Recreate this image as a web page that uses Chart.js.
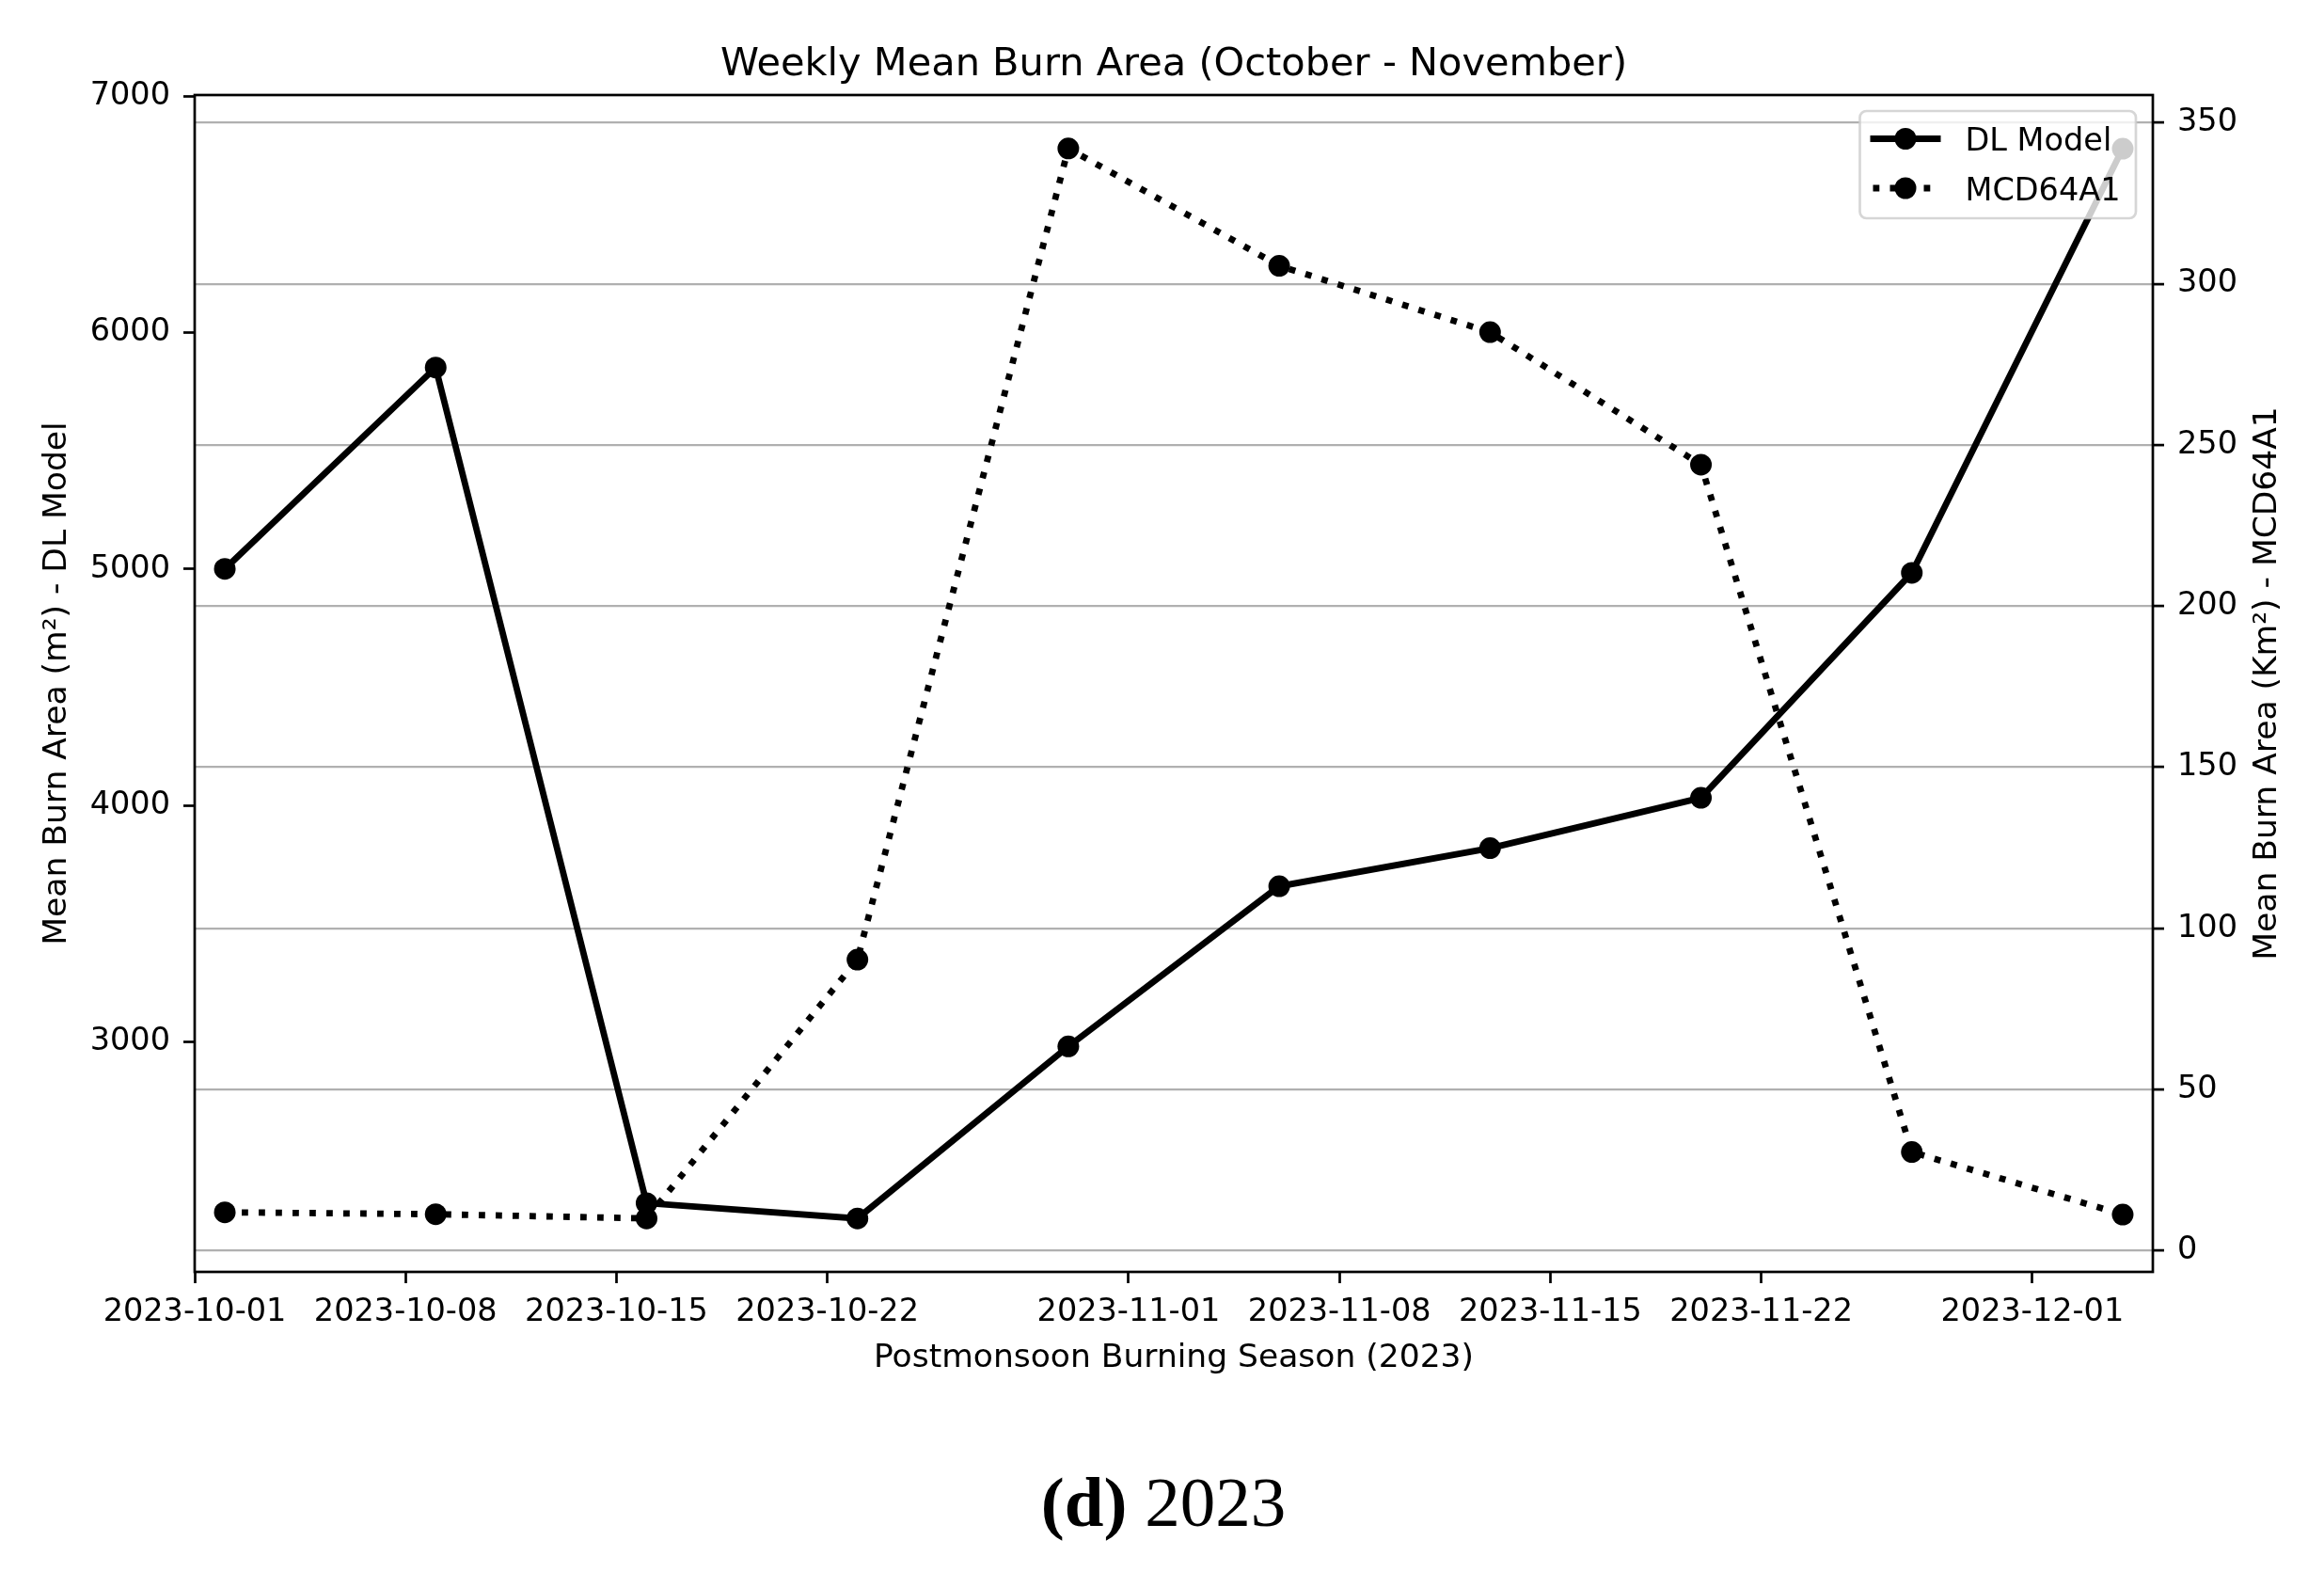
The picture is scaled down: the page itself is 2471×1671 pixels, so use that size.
<!DOCTYPE html>
<html>
<head>
<meta charset="utf-8">
<script src="https://cdn.jsdelivr.net/npm/chart.js@4.4.1/dist/chart.umd.min.js"></script>
<style>
  html, body { margin: 0; padding: 0; background: #fff; }
  canvas { display: block; }
</style>
</head>
<body>
<canvas id="burn-chart" width="2471" height="1671"></canvas>
<script>
    // weekly points
    const weeks = ['2023-10-02', '2023-10-09', '2023-10-16', '2023-10-23', '2023-10-30',
                   '2023-11-06', '2023-11-13', '2023-11-20', '2023-11-27', '2023-12-04'];
    const dlModel = [5001, 5853, 2317, 2252, 2980, 3658, 3819, 4032, 4984, 6779];
    const mcd64a1 = [11.9, 11.3, 10.0, 90.3, 342.0, 305.6, 285.0, 243.9, 30.6, 11.2];

    const xTickLabels = ['2023-10-01', '2023-10-08', '2023-10-15', '2023-10-22', '2023-11-01',
                         '2023-11-08', '2023-11-15', '2023-11-22', '2023-12-01'];
    const leftTicks = [3000, 4000, 5000, 6000, 7000];
    const rightTicks = [0, 50, 100, 150, 200, 250, 300, 350];

    const xStart = '2023-10-01';
    const xEnd = '2023-12-05';

    const FONT = 'DejaVu Sans';
    const day = s => (Date.parse(s) - Date.parse(xStart)) / 864e5;
    const xTickDays = xTickLabels.map(day);

    Chart.defaults.color = '#000';
    Chart.defaults.font.family = FONT;

    function drawLegendRow(ctx, x, y, label, dash) {
        ctx.save();
        ctx.strokeStyle = '#000';
        ctx.lineWidth = 6.8;
        ctx.lineCap = 'butt';
        ctx.beginPath();
        if (dash) {
            ctx.setLineDash([6.8, 11.2]);
            ctx.moveTo(x + 3, y);
        } else {
            ctx.moveTo(x, y);
        }
        ctx.lineTo(x + 75, y);
        ctx.stroke();
        ctx.setLineDash([]);
        ctx.fillStyle = '#000';
        ctx.beginPath();
        ctx.arc(x + 37.5, y, 11.5, 0, Math.PI * 2);
        ctx.fill();
        ctx.font = '33.5px "' + FONT + '"';
        ctx.textBaseline = 'alphabetic';
        ctx.textAlign = 'left';
        ctx.fillText(label, x + 101, y + 12.5);
        ctx.restore();
    }

    const decor = {
        id: 'decor',
        afterDatasetsDraw(chart) {
            const { ctx, chartArea: a } = chart;
            ctx.save();
            // frame like matplotlib spines
            ctx.strokeStyle = '#000';
            ctx.lineWidth = 2.7;
            ctx.strokeRect(a.left, a.top, a.right - a.left, a.bottom - a.top);

            // legend in the upper right corner, over the data
            const bw = 293.5, bh = 114;
            const bx = a.right - 18 - bw, by = a.top + 17;
            ctx.beginPath();
            ctx.roundRect(bx, by, bw, bh, 7);
            ctx.fillStyle = 'rgba(255,255,255,0.8)';
            ctx.fill();
            ctx.strokeStyle = 'rgba(204,204,204,0.8)';
            ctx.lineWidth = 2.7;
            ctx.stroke();
            ctx.restore();

            drawLegendRow(ctx, bx + 11, by + 29.5, 'DL Model', false);
            drawLegendRow(ctx, bx + 11, by + 82, 'MCD64A1', true);
        },
        afterDraw(chart) {
            const { ctx, chartArea: a } = chart;
            const cx = (a.left + a.right) / 2;
            const cy = (a.top + a.bottom) / 2;
            ctx.save();
            ctx.fillStyle = '#000';
            ctx.textAlign = 'center';
            ctx.textBaseline = 'alphabetic';

            ctx.font = '41.5px "' + FONT + '"';
            ctx.fillText('Weekly Mean Burn Area (October - November)', cx, 80);

            ctx.font = '34.5px "' + FONT + '"';
            ctx.fillText('Postmonsoon Burning Season (2023)', cx, 1453);

            ctx.textBaseline = 'middle';
            ctx.save();
            ctx.translate(61, cy);
            ctx.rotate(-Math.PI / 2);
            ctx.fillText('Mean Burn Area (m\u00b2) - DL Model', 0, 0);
            ctx.restore();

            ctx.save();
            ctx.translate(2411, cy);
            ctx.rotate(-Math.PI / 2);
            ctx.fillText('Mean Burn Area (Km\u00b2) - MCD64A1', 0, 0);
            ctx.restore();

            // caption under the figure
            ctx.textBaseline = 'alphabetic';
            ctx.textAlign = 'left';
            const bold = 'bold 75px "Liberation Serif"';
            const reg = '75px "Liberation Serif"';
            ctx.font = bold;
            const w1 = ctx.measureText('(d)').width;
            ctx.font = reg;
            const w2 = ctx.measureText(' 2023').width;
            const x0 = 1237 - (w1 + w2) / 2;
            ctx.font = bold;
            ctx.fillText('(d)', x0, 1622);
            ctx.font = reg;
            ctx.fillText(' 2023', x0 + w1, 1622);
            ctx.restore();
        }
    };

    const tickFont = { family: FONT, size: 33.5 };

    new Chart(document.querySelector('#burn-chart').getContext('2d'), {
        type: 'line',
        data: {
            datasets: [{
                label: 'DL Model',
                data: weeks.map((d, i) => ({ x: day(d), y: dlModel[i] })),
                yAxisID: 'y',
                order: 1,
                borderColor: '#000',
                backgroundColor: '#000',
                borderWidth: 6.8,
                pointRadius: 11.5,
                pointBorderWidth: 0,
                pointBackgroundColor: '#000',
                tension: 0,
                fill: false
            }, {
                label: 'MCD64A1',
                data: weeks.map((d, i) => ({ x: day(d), y: mcd64a1[i] })),
                yAxisID: 'y1',
                order: 0,
                borderColor: '#000',
                backgroundColor: '#000',
                borderWidth: 6.8,
                borderDash: [6.8, 11.2],
                borderCapStyle: 'butt',
                pointRadius: 11.5,
                pointBorderWidth: 0,
                pointBackgroundColor: '#000',
                tension: 0,
                fill: false
            }]
        },
        options: {
            responsive: false,
            animation: false,
            events: [],
            layout: { padding: { top: 101, left: 0, right: 0, bottom: 0 } },
            plugins: {
                legend: { display: false },
                tooltip: { enabled: false }
            },
            scales: {
                x: {
                    type: 'linear',
                    min: 0,
                    max: day(xEnd),
                    afterBuildTicks: scale => { scale.ticks = xTickDays.map(v => ({ value: v })); },
                    afterFit: scale => { scale.height = 1671 - 1352; },
                    border: { display: false },
                    grid: { drawOnChartArea: false, tickColor: '#000', tickWidth: 2.7, tickLength: 12 },
                    ticks: {
                        autoSkip: false, maxRotation: 0, minRotation: 0, padding: 11,
                        font: tickFont,
                        callback: v => xTickLabels[xTickDays.indexOf(v)] ?? ''
                    }
                },
                y: {
                    position: 'left',
                    min: 2026,
                    max: 7006,
                    afterBuildTicks: scale => { scale.ticks = leftTicks.map(v => ({ value: v })); },
                    afterFit: scale => { scale.width = 207; },
                    border: { display: false },
                    grid: { drawOnChartArea: false, tickColor: '#000', tickWidth: 2.7, tickLength: 12 },
                    ticks: { padding: 14, font: tickFont, callback: v => String(v) }
                },
                y1: {
                    position: 'right',
                    min: -6.6,
                    max: 358.6,
                    afterBuildTicks: scale => { scale.ticks = rightTicks.map(v => ({ value: v })); },
                    afterFit: scale => { scale.width = 2471 - 2289; },
                    border: { display: false },
                    grid: { color: '#b0b0b0', lineWidth: 2.2, tickColor: '#000', tickWidth: 2.7, tickLength: 12 },
                    ticks: { padding: 14, font: tickFont, callback: v => String(v) }
                }
            }
        },
        plugins: [decor]
    });
</script>
</body>
</html>
